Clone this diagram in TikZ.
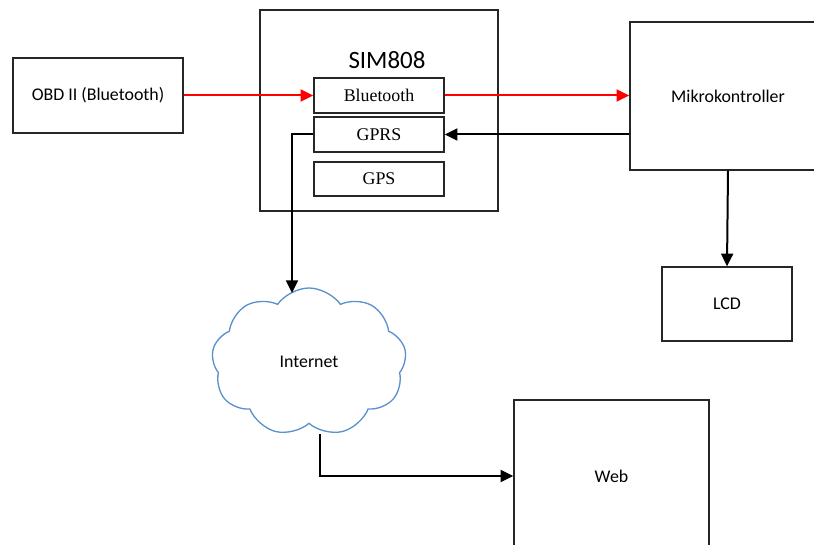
\documentclass[tikz,border=0pt]{standalone}
\usepackage{fontspec}
\setmainfont{Carlito}
\newfontfamily\tnr{Liberation Serif}
\usetikzlibrary{arrows.meta,shapes.symbols}
\definecolor{cloudblue}{RGB}{91,146,205}
\begin{document}
\begin{tikzpicture}[x=0.75pt,y=-0.75pt,
  box/.style={draw=black!85,line width=1pt,inner sep=0pt,font=\fontsize{13.4}{16}\selectfont},
  sub/.style={box,minimum width=97.5pt,minimum height=26.25pt,font=\tnr\fontsize{13.4}{16}\selectfont},
  conn/.style={line width=1.5pt,-{Triangle[length=9.5pt,width=9pt]}},
  redconn/.style={conn,red}]
\clip (0,0) rectangle (814,545);
\fill[white] (0,0) rectangle (814,545);
% boxes
\node[box,minimum width=127.5pt,minimum height=56.25pt] (obd) at (98,95.5) {OBD II (Bluetooth)};
\node[box,minimum width=178.5pt,minimum height=150.75pt] (sim) at (379,110.5) {};
\node[font=\fontsize{18.7}{22}\selectfont] (simt) at (387,60) {SIM808};
\node[sub] (bt) at (379,95.5) {Bluetooth};
\node[sub] (gprs) at (379,134.5) {GPRS};
\node[sub,minimum height=25.5pt] (gps) at (379,179) {GPS};
\node[box,minimum width=147pt,minimum height=111pt] (mc) at (728,96) {Mikrokontroller};
\node[box,minimum width=97.5pt,minimum height=55.5pt] (lcd) at (727,304) {LCD};
\node[box,minimum width=146.25pt,minimum height=114pt] (web) at (611.5,476) {Web};
\node[cloud,draw=cloudblue,line width=1pt,cloud puffs=9,cloud puff arc=110,aspect=1.3,
      minimum width=146pt,minimum height=111pt,inner sep=0pt,
      font=\fontsize{13.4}{16}\selectfont] (cloud) at (309,362) {Internet};
\coordinate (ctop) at (292,293);
\coordinate (cbot) at (320,434);
% connectors
\draw[redconn] (obd.east) -- (bt.west);
\draw[redconn] (bt.east) -- (mc.west |- bt.east);
\draw[conn] (mc.west |- gprs.east) -- (gprs.east);
\draw[conn] (gprs.west) -| (ctop);
\draw[conn] (cbot) |- (web.west);
\draw[conn] (mc.south) -- (lcd.north);
\end{tikzpicture}
\end{document}
